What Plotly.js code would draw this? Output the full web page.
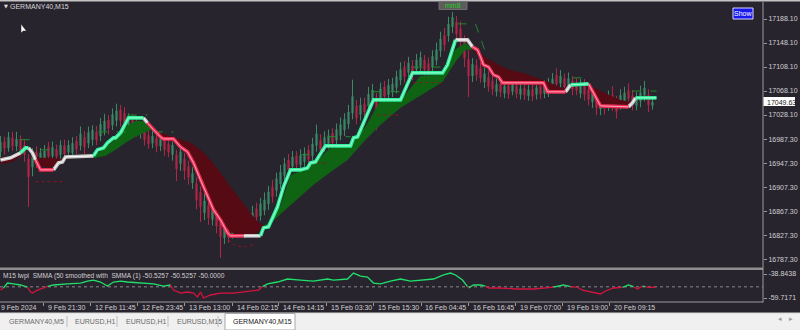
<!DOCTYPE html>
<html><head><meta charset="utf-8">
<script src="https://cdn.plot.ly/plotly-3.0.1.min.js"></script>
<style>html,body{margin:0;padding:0;background:#28242e;overflow:hidden}#c{width:800px;height:330px}</style>
</head><body><div id="c"></div><script>
// ---------------- DATA ----------------
const candleX=[0,4,8,12,16,20,24,28,32,36,40,44,48,52,56,60,64,68,72,76,80,84,88,92,96,100,104,108,112,116,120,124,128,132,136,140,144,148,152,156,160,164,168,172,176,180,184,188,192,196,200,204,208,212,216,220,224,228,232,236,240,244,248,252,256,260,264,268,272,276,280,284,288,292,296,300,304,308,312,316,320,324,328,332,336,340,344,348,352,356,360,364,368,372,376,380,384,388,392,396,400,404,408,412,416,420,424,428,432,436,440,444,448,452,456,460,464,468,472,476,480,484,488,492,496,500,504,508,512,516,520,524,528,532,536,540,544,548,552,556,560,564,568,572,576,580,584,588,592,596,600,604,608,612,616,620,624,628,632,636,640,644,648,652];
const candleOpen=[16967,16984,16973,16990,16976,16988,16978,16955,16941,16966,16951,16956,16975,16960,16971,16962,16977,16966,16965,16985,16977,16991,16981,16987,17000,16993,17002,17020,17011,17019,17037,17031,17011,17020,17014,16997,17003,16994,16981,16990,16976,16986,16980,16962,16962,16947,16955,16942,16915,16914,16899,16865,16877,16854,16863,16849,16823,16841,16830,16846,16837,16847,16841,16849,16872,16860,16869,16880,16908,16902,16913,16927,16953,16942,16960,16945,16950,16970,16960,16977,16986,16975,16980,16998,16986,16994,17003,17013,17031,17043,17029,17047,17043,17054,17057,17052,17075,17062,17066,17074,17086,17108,17099,17110,17104,17110,17120,17114,17108,17119,17135,17161,17160,17175,17183,17172,17151,17121,17093,17111,17106,17083,17091,17085,17067,17080,17064,17077,17067,17076,17062,17073,17060,17071,17062,17077,17064,17066,17072,17094,17081,17089,17077,17085,17081,17064,17078,17070,17050,17056,17038,17051,17043,17061,17050,17045,17051,17069,17060,17044,17051,17061,17061,17044];
const candleClose=[16983,16972,16991,16976,16988,16968,16962,16925,16965,16950,16965,16968,16959,16974,16959,16978,16963,16978,16981,16971,16997,16975,16999,17003,16986,17013,17018,17006,17029,17035,17019,17015,17023,17004,17000,17009,16987,16980,16993,16976,16988,16970,16966,16978,16938,16967,16935,16924,16931,16886,16875,16885,16857,16870,16843,16825,16843,16825,16844,16834,16853,16833,16859,16865,16858,16880,16887,16900,16892,16922,16933,16947,16937,16958,16946,16961,16964,16954,16980,16997,16970,16991,16994,16982,17004,17012,17021,17033,17059,17023,17045,17033,17063,17070,17033,17072,17059,17078,17080,17092,17104,17092,17115,17096,17120,17124,17104,17100,17126,17137,17155,17145,17180,17191,17163,17152,17123,17093,17113,17095,17090,17097,17075,17071,17079,17066,17076,17063,17079,17064,17072,17061,17070,17059,17074,17063,17076,17080,17088,17080,17093,17075,17089,17071,17069,17076,17062,17054,17064,17040,17052,17039,17057,17045,17034,17061,17065,17055,17046,17056,17065,17073,17045,17049.63];
const candleHigh=[16993,16992,17000,17000,17000,16994,16986,16963,16973,16976,16973,16978,16983,16984,16979,16986,16987,16986,16991,16993,17009,17001,17009,17011,17010,17023,17030,17028,17039,17047,17045,17041,17031,17028,17024,17017,17011,17004,17003,16998,16998,16994,16990,16986,16970,16977,16965,16952,16941,16924,16909,16897,16887,16882,16873,16859,16853,16851,16854,16854,16865,16855,16869,16877,16882,16890,16899,16910,16920,16932,16945,16957,16963,16968,16968,16971,16974,16978,16990,17012,16996,17001,17004,17006,17014,17024,17031,17045,17087,17053,17057,17057,17075,17080,17065,17082,17085,17088,17090,17102,17116,17118,17125,17120,17130,17134,17128,17124,17136,17149,17167,17173,17192,17200,17193,17184,17161,17136,17123,17121,17116,17107,17101,17093,17089,17088,17086,17085,17089,17084,17082,17081,17078,17081,17082,17085,17086,17090,17098,17106,17103,17097,17099,17093,17089,17088,17088,17080,17074,17066,17062,17061,17069,17076,17060,17071,17075,17081,17070,17066,17077,17085,17071,17058];
const candleLow=[16955,16962,16967,16968,16968,16958,16950,16875,16926,16940,16943,16948,16949,16954,16951,16954,16955,16956,16959,16963,16969,16963,16973,16977,16978,16985,16994,16996,17003,17009,17009,17007,17001,16996,16992,16989,16977,16972,16973,16966,16968,16960,16958,16952,16918,16935,16920,16912,16905,16871,16850,16853,16845,16844,16831,16790,16813,16815,16822,16824,16829,16823,16833,16841,16848,16852,16861,16870,16882,16892,16905,16917,16927,16934,16936,16937,16942,16944,16952,16967,16960,16967,16972,16972,16978,16986,16993,17005,17021,17013,17019,17023,17035,17044,17003,17042,17049,17054,17058,17064,17078,17082,17091,17086,17096,17100,17094,17092,17100,17111,17125,17135,17150,17165,17153,17140,17108,17058,17083,17085,17082,17073,17067,17061,17059,17058,17056,17055,17061,17056,17054,17053,17052,17051,17054,17055,17056,17058,17064,17072,17071,17065,17069,17061,17061,17056,17052,17044,17040,17028,17028,17029,17035,17035,17022,17037,17043,17045,17036,17036,17041,17051,17033,17037];

// main step line (vertices) and colour of the segment that starts at each vertex
const stepX=[0,10,20,25,28,32,35,40,53,55,58,62,65,93,97,103,107,113,115,120,125,128,143,147,153,160,163,173,180,187,193,200,207,213,220,227,230,243,260,263,268,277,283,290,300,307,310,315,318,325,350,353,357,372,373,400,412,442,447,455,467,472,477,480,483,488,493,498,502,543,547,565,570,588,600,628,632,635,656];
const stepY=[16953.3,16956.7,16965,16973.3,16973.3,16965,16953.3,16936.7,16936.7,16941.7,16948.3,16950,16958.3,16960,16970,16973.3,16981.7,16990,16990,16998.3,17015,17023.3,17023.3,17015,17003.3,16991.7,16988.3,16988.3,16975,16966.7,16948.3,16920,16891.7,16870,16853.3,16831.7,16826.7,16826.7,16826.7,16840,16841.7,16875,16908.3,16936.7,16936.7,16940,16948.3,16950,16958.3,16976.7,16976.7,16990,16991.7,17050,17053.3,17053.3,17098.3,17098.3,17111.7,17153.3,17153.3,17141.7,17136.7,17125,17111.7,17108.3,17095,17091.7,17081.7,17081.7,17066.7,17066.7,17078.3,17080,17043.3,17041.7,17048.3,17056.7,17056.7];
const stepSeg="wwggwwrrwwwwwgggggggggwrrrrrrrrrrrrrrwgggggggggggggggggggggwwrrrrrrrrrrwgrrwwgg".split("");

// band between the fast and slow smoothed averages (runs split by null)
const bandX=[0,12,22,null,30,40,50,58,66,null,88,95,105,115,125,135,143,150,153,null,153,160,170,180,190,200,210,220,230,240,250,257,264,null,264,270,280,290,300,313,330,347,365,380,400,420,442,455,465,472,null,472,480,490,500,510,525,540,550,558,566,null,586,592,600,610,620,630,634];
const bandFast=[16947,16950,16962,null,16960,16943,16940,16945,16953,null,16957,16962,16973,16988,17008,17018,17018,17008,17003,null,17003,16992,16987,16975,16958,16925,16887,16857,16833,16827,16828,16833,16843,null,16843,16852,16877,16927,16935,16947,16973,16977,17008,17052,17052,17093,17095,17137,17148,17137,null,17137,17123,17103,17087,17082,17080,17078,17070,17068,17072,null,17078,17067,17047,17043,17042,17048,17053];
const bandSlow=[16958,16958,16962,null,16960,16957,16957,16955,16955,null,16957,16957,16960,16970,16982,16992,16998,17003,17003,null,17003,16998,16993,16988,16982,16970,16953,16932,16908,16887,16865,16850,16843,null,16843,16847,16863,16878,16893,16912,16933,16953,16987,17012,17040,17060,17083,17117,17137,17137,null,17137,17130,17120,17110,17103,17097,17088,17082,17075,17072,null,17078,17075,17068,17060,17053,17050,17053];

// upper (dashed green) and lower (dotted red) channel levels
const chanUpX=[20,33,null,40,57,null,98,127,null,127,147,null,153,173,null,300,310,null,327,350,null,372,400,null,413,442,null,457,475,487,null,572,588,null,632,656];
const chanUpY=[16987,16987,null,16970,16970,null,17000,17000,null,17028,17028,null,17000,17000,null,16962,16962,null,16992,16992,null,17067,17067,null,17108,17108,null,17180,17180,17123,null,17090,17090,null,17068,17068];
const chanDnX=[35,65,null,228,235,245,255,null,310,325,null,377,400,null,413,442];
const chanDnY=[16917,16917,null,16820,16810,16808,16813,null,16948,16948,null,17028,17028,null,17082,17082];

// oscillator sub-window
const oscX=[0,3,5,7,13,20,27,30,32,37,43,47,53,67,80,87,93,100,107,113,120,127,140,153,163,170,173,180,187,193,197,200,203,210,220,233,250,258,262,267,277,287,300,313,327,333,347,353,360,367,373,380,390,400,410,420,433,443,450,455,462,467,468,473,480,485,488,500,517,533,547,553,557,563,570,577,582,590,600,605,613,622,628,633,637,642,645,648,655];
const oscY=[-52.8,-51.0,-48.4,-46.7,-47.5,-48.4,-50.2,-54.5,-55.4,-52.8,-51.0,-49.6,-48.4,-47.5,-46.7,-45.0,-44.1,-45.8,-49.3,-45.8,-45.0,-45.8,-46.7,-47.5,-49.3,-48.4,-52.8,-55.4,-54.5,-55.4,-58.9,-54.5,-59.7,-57.1,-55.4,-55.4,-53.6,-52.8,-49.8,-47.5,-45.8,-43.2,-44.1,-45.0,-43.2,-44.1,-43.2,-38.0,-40.6,-41.5,-46.7,-47.5,-45.0,-43.2,-45.0,-44.1,-43.2,-39.7,-38.0,-39.7,-44.1,-49.8,-51.0,-48.4,-48.4,-49.3,-51.0,-51.0,-51.9,-51.9,-51.0,-50.3,-49.3,-48.4,-49.8,-50.4,-52.8,-54.5,-56.2,-53.6,-51.0,-50.4,-48.4,-49.9,-51.9,-49.3,-49.9,-50.5,-50.5];
const oscLevel=-50;

// axis labels
const priceTicks=[17188.10,17148.10,17108.10,17068.10,17028.10,16987.30,16947.30,16907.30,16867.30,16827.30,16787.30];
const priceTickText=["17188.10","17148.10","17108.10","17068.10","17028.10","16987.30","16947.30","16907.30","16867.30","16827.30","16787.30"];
const oscTicks=[-38.8438,-59.7171];
const oscTickText=["-38.8438","-59.7171"];
const timePos=[-4,43,90,137,184,232,278,326,373,421,468,515,562,609];
const timeText=["9 Feb 2024","9 Feb 21:30","12 Feb 11:45","12 Feb 23:45","13 Feb 13:00","14 Feb 02:15","14 Feb 14:15","15 Feb 03:30","15 Feb 15:30","16 Feb 04:45","16 Feb 16:45","19 Feb 07:00","19 Feb 19:00","20 Feb 09:15"];
const lastPrice=17049.63;
const tabs=["GERMANY40,M5","EURUSD,H1","EURUSD,H1","EURUSD,M15","GERMANY40,M15"];

// ---------------- LAYOUT HELPERS ----------------
const W=800,H=330,ML=0,MR=37,MT=3,MB=28;
const PW=W-ML-MR, PH=H-MT-MB;
const XR=[-0.5,762.5];
const px=x=>(x-ML)/PW, py=y=>(H-MB-y)/PH;
const xData2Paper=v=>(v-XR[0])/(XR[1]-XR[0]);
const FONT="Liberation Sans Narrow, Liberation Sans, Arial, sans-serif";

const traces=[];
traces.push({type:'candlestick',x:candleX,open:candleOpen,high:candleHigh,low:candleLow,close:candleClose,
  xaxis:'x',yaxis:'y',whiskerwidth:0,
  increasing:{line:{color:'#3a8a66',width:1},fillcolor:'#3a8a66'},
  decreasing:{line:{color:'#b22645',width:1},fillcolor:'#b22645'},hoverinfo:'skip'});

// bands
let run=[];
function flushRun(){
  if(run.length<2){run=[];return;}
  let s=0; run.forEach(i=>{s+=bandFast[i]-bandSlow[i];});
  const col=s>=0?'#0f6414':'#560a13';
  const xs=run.map(i=>bandX[i]);
  traces.push({type:'scatter',mode:'lines',x:xs,y:run.map(i=>bandSlow[i]),line:{width:0,color:col},xaxis:'x',yaxis:'y',hoverinfo:'skip'});
  traces.push({type:'scatter',mode:'lines',x:xs,y:run.map(i=>bandFast[i]),line:{width:0.5,color:col},fill:'tonexty',fillcolor:col,xaxis:'x',yaxis:'y',hoverinfo:'skip'});
  run=[];
}
bandX.forEach((v,i)=>{ if(v===null){flushRun();} else run.push(i); });
flushRun();

traces.push({type:'scatter',mode:'lines',x:chanUpX,y:chanUpY,line:{color:'#1f8a2c',width:1,dash:'dash'},xaxis:'x',yaxis:'y',hoverinfo:'skip'});
traces.push({type:'scatter',mode:'lines',x:chanDnX,y:chanDnY,line:{color:'#8c1424',width:1,dash:'dot'},xaxis:'x',yaxis:'y',hoverinfo:'skip'});

// step line split by colour
function splitSeg(xs,ys,colorOf,key){
  const ox=[],oy=[];
  for(let i=0;i<xs.length-1;i++){
    if(colorOf(i)!==key) continue;
    if(i>0 && colorOf(i-1)===key){ox.push(xs[i+1]);oy.push(ys[i+1]);}
    else{ if(ox.length){ox.push(null);oy.push(null);} ox.push(xs[i],xs[i+1]);oy.push(ys[i],ys[i+1]); }
  }
  return [ox,oy];
}
const stepStyle={g:['#2ff09c','#a6ffd6'],r:['#ee2c55','#ffa8b8'],w:['#c8c8c8','#ffffff']};
['w','r','g'].forEach(k=>{
  const [sx,sy]=splitSeg(stepX,stepY,i=>stepSeg[i],k);
  traces.push({type:'scatter',mode:'lines',x:sx,y:sy,line:{color:stepStyle[k][0],width:3.6},xaxis:'x',yaxis:'y',hoverinfo:'skip'});
  traces.push({type:'scatter',mode:'lines',x:sx,y:sy,line:{color:stepStyle[k][1],width:1},xaxis:'x',yaxis:'y',hoverinfo:'skip'});
});

// oscillator split by level
const oscCol=i=>((oscY[i]+oscY[i+1])/2>=oscLevel?'g':'r');
[['g','#1fe06a'],['r','#d4143f']].forEach(([k,c])=>{
  const [ox,oy]=splitSeg(oscX,oscY,oscCol,k);
  traces.push({type:'scatter',mode:'lines',x:ox,y:oy,line:{color:c,width:1.3},xaxis:'x',yaxis:'y2',hoverinfo:'skip'});
});

// ---------------- SHAPES / ANNOTATIONS ----------------
const shapes=[
  {type:'rect',xref:'paper',yref:'paper',x0:px(0),x1:px(800),y0:py(0),y1:py(1.5),fillcolor:'#c4c4c4',line:{width:0},layer:'above'},
  {type:'rect',xref:'paper',yref:'paper',x0:px(0),x1:px(763),y0:py(267.5),y1:py(270),fillcolor:'#8e8e8e',line:{width:0},layer:'above'},
  {type:'line',xref:'paper',yref:'paper',x0:px(0),x1:px(763),y0:py(302),y1:py(302),line:{color:'#9a9a9a',width:1},layer:'above'},
  {type:'line',xref:'paper',yref:'paper',x0:px(763),x1:px(763),y0:py(2),y1:py(302.5),line:{color:'#9a9a9a',width:1},layer:'above'},
  {type:'line',xref:'paper',yref:'y2',x0:0,x1:1,y0:oscLevel,y1:oscLevel,line:{color:'#8a8a8a',width:1,dash:'dot'},layer:'below'},
  {type:'rect',xref:'paper',yref:'paper',x0:px(0),x1:px(800),y0:py(313),y1:py(331),fillcolor:'#f0f0f0',line:{width:0}},
  {type:'line',xref:'paper',yref:'paper',x0:px(0),x1:px(800),y0:py(313),y1:py(313),line:{color:'#d6d6d6',width:1}},
  {type:'rect',xref:'paper',yref:'paper',x0:px(225),x1:px(295),y0:py(313.5),y1:py(330),fillcolor:'#ffffff',line:{color:'#a8a8a8',width:1}},
  {type:'rect',xref:'paper',yref:'paper',x0:px(733),x1:px(753),y0:py(8),y1:py(19),fillcolor:'#1818ee',line:{color:'#d8d8ff',width:1},layer:'above'},
  {type:'rect',xref:'paper',yref:'paper',x0:px(439),x1:px(467),y0:py(1.5),y1:py(9.5),fillcolor:'#5c5c5c',line:{color:'#6e6e6e',width:1},layer:'above'},
  {type:'rect',xref:'paper',yref:'paper',x0:px(763.5),x1:px(795),y0:py(97),y1:py(106),fillcolor:'#ffffff',line:{width:0},layer:'above'},
  {type:'path',xref:'paper',yref:'paper',path:`M${px(21)},${py(24)} L${px(21)},${py(33)} L${px(23.3)},${py(31)} L${px(26.5)},${py(31)} Z`,fillcolor:'#ffffff',line:{color:'#222222',width:0.5},layer:'above'}
];
[67,117,168,218].forEach(x=>shapes.push({type:'line',xref:'paper',yref:'paper',x0:px(x),x1:px(x),y0:py(316),y1:py(327),line:{color:'#bcbcbc',width:1}}));

const ann=[];
const A=(x,y,text,opts)=>ann.push(Object.assign({xref:'paper',yref:'paper',x:px(x),y:py(y),text:text,showarrow:false,xanchor:'left',yanchor:'middle',font:{family:FONT,size:7,color:'#d0d0d0'}},opts||{}));
A(1.5,6.5,'▼',{font:{family:'DejaVu Sans',size:5,color:'#e0e0e0'}});
A(7.5,6.5,'GERMANY40,M15',{font:{family:FONT,size:7,color:'#d8d8d8'}});
A(453,5.5,'mm8',{xanchor:'center',font:{family:FONT,size:7,color:'#22d022'}});
A(743,13.5,'Show',{xanchor:'center',font:{family:FONT,size:7,color:'#ffffff'}});
ann.push({xref:'paper',yref:'y',x:px(765),y:lastPrice,text:'17049.63',showarrow:false,xanchor:'left',yanchor:'middle',font:{family:FONT,size:7,color:'#202020'}});
A(1,275.5,'M15 lwpi  SMMA (50 smoothed with  SMMA (1) -50.5257 -50.5257 -50.0000',{font:{family:FONT,size:6.6,color:'#d0d0d0'}});
timePos.forEach((t,i)=>ann.push({xref:'paper',yref:'paper',x:xData2Paper(t),xshift:2,y:py(307.5),text:timeText[i],showarrow:false,xanchor:'left',yanchor:'middle',font:{family:FONT,size:7,color:'#d0d0d0'}}));
const tabX=[7,73,124,175,231];
tabs.forEach((t,i)=>A(tabX[i],321.5,t,{font:{family:FONT,size:7,color:i===4?'#202020':'#6a6a6a'}}));
A(780,319,'◂',{xanchor:'center',font:{family:'DejaVu Sans',size:7,color:'#9a9a9a'}});
A(791,319,'▸',{xanchor:'center',font:{family:'DejaVu Sans',size:7,color:'#9a9a9a'}});

const axFont={family:FONT,size:7,color:'#d0d0d0'};
const layout={
  width:W,height:H,margin:{l:ML,r:MR,t:MT,b:MB,pad:0},
  paper_bgcolor:'#28242e',plot_bgcolor:'#28242e',showlegend:false,boxgap:0.6,
  xaxis:{range:XR,anchor:'y2',showgrid:false,zeroline:false,showline:false,
    tickmode:'array',tickvals:timePos,ticks:'outside',ticklen:3,tickcolor:'#9a9a9a',showticklabels:false,
    rangeslider:{visible:false},fixedrange:true},
  yaxis:{domain:[py(268),1],range:[16773.1,17214.8],side:'right',showgrid:false,zeroline:false,showline:false,
    tickmode:'array',tickvals:priceTicks,ticktext:priceTickText,ticks:'outside',ticklen:3,tickcolor:'#9a9a9a',tickfont:axFont,fixedrange:true},
  yaxis2:{domain:[0,py(270)],range:[-63.2,-35.36],side:'right',anchor:'x',showgrid:false,zeroline:false,showline:false,
    tickmode:'array',tickvals:oscTicks,ticktext:oscTickText,ticks:'outside',ticklen:3,tickcolor:'#9a9a9a',tickfont:axFont,fixedrange:true},
  shapes:shapes,annotations:ann
};
Plotly.newPlot('c',traces,layout,{staticPlot:true,displayModeBar:false});
</script></body></html>
